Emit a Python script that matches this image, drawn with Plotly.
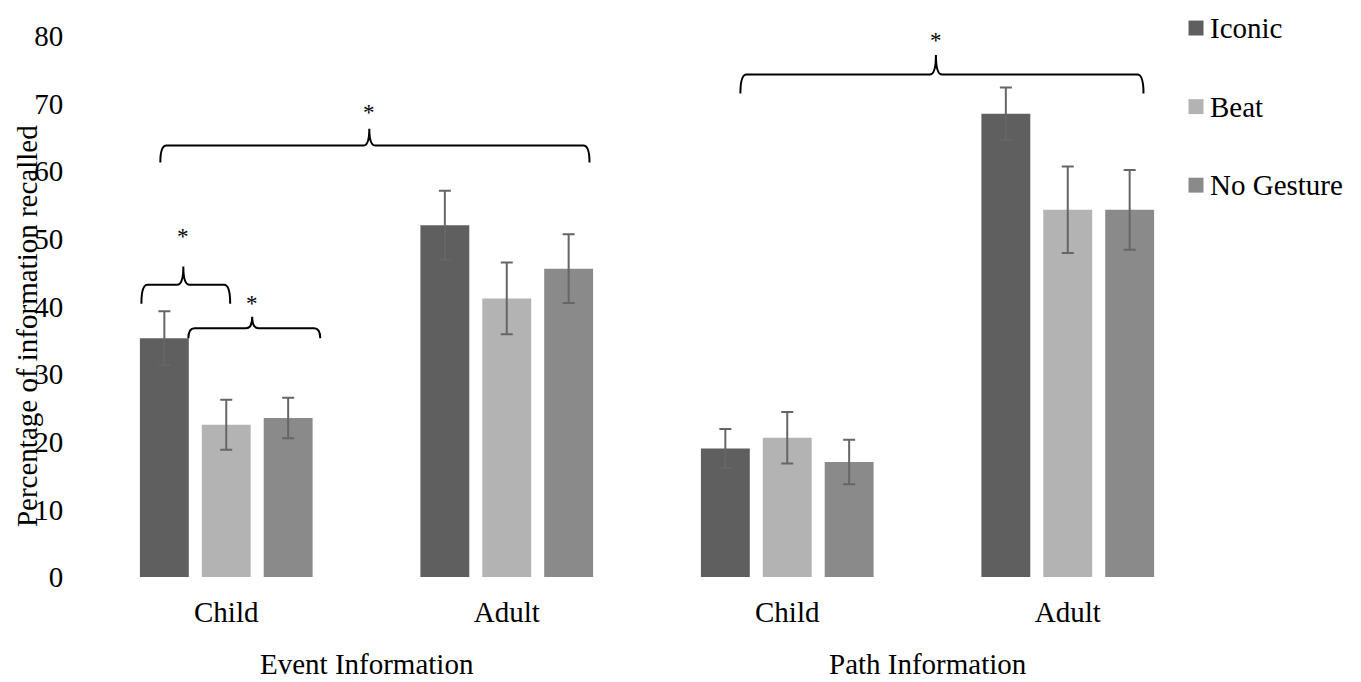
import plotly.graph_objects as go

groups = ["Event Information", "Path Information"]
categories = ["Child", "Adult", "Child", "Adult"]
series = ["Iconic", "Beat", "No Gesture"]
colors = ["#5f5f5f", "#b3b3b3", "#8a8a8a"]

iconic = [35.3, 52.0, 19.0, 68.5]
beat = [22.5, 41.2, 20.6, 54.3]
no_gesture = [23.5, 45.6, 17.0, 54.3]

iconic_err = [4.0, 5.1, 2.9, 3.9]
beat_err = [3.7, 5.3, 3.8, 6.4]
no_gesture_err = [3.0, 5.1, 3.3, 5.9]

values = [iconic, beat, no_gesture]
errors = [iconic_err, beat_err, no_gesture_err]

# significance braces: (x0, x1, tip x, y_end, y_flat, y_tip, y_star) in axis units
braces = [
    (-0.235, 1.295, 0.51, 61.3, 63.8, 66.3, 68.7),
    (-0.3025, 0.014, -0.153, 40.4, 43.2, 45.9, 50.3),
    (-0.135, 0.335, 0.0925, 35.3, 36.8, 38.5, 40.4),
    (1.833, 3.27, 2.53, 71.5, 74.3, 77.2, 79.4),
]

FONT = "Liberation Serif, Times New Roman, serif"
FS = 29
W, H = 1361, 682
ML, MR, MT, MB = 77.5, 160.5, 25, 113
PW, PH = W - ML - MR, H - MT - MB
xpos = list(range(len(categories)))

def px_to_paper_x(fx):
    return (fx - ML) / PW

def px_to_paper_y(fy):
    return (H - MB - fy) / PH

fig = go.Figure()
for name, vals, errs, col in zip(series, values, errors, colors):
    fig.add_trace(go.Bar(
        x=xpos, y=vals, name=name, marker=dict(color=col, line=dict(width=0)),
        error_y=dict(type="data", array=errs, visible=True, color="#666666",
                     thickness=2, width=6),
        showlegend=False,
    ))

def brace_path(x0, x1, xm, ye, yf, yt):
    dx = 0.022
    return (f"M {x0},{ye} Q {x0},{yf} {x0+dx},{yf} "
            f"L {xm-dx},{yf} Q {xm},{yf} {xm},{yt} "
            f"Q {xm},{yf} {xm+dx},{yf} "
            f"L {x1-dx},{yf} Q {x1},{yf} {x1},{ye}")

shapes = []
annotations = []
for x0, x1, xm, ye, yf, yt, ys in braces:
    shapes.append(dict(type="path", xref="x", yref="y",
                       path=brace_path(x0, x1, xm, ye, yf, yt),
                       line=dict(color="black", width=2)))
    annotations.append(dict(x=xm, y=ys, xref="x", yref="y", text="*",
                            showarrow=False, font=dict(family=FONT, size=23, color="black")))

# group labels
for i, g in enumerate(groups):
    annotations.append(dict(x=2 * i + 0.5, y=-0.16, xref="x", yref="paper", text=g,
                            showarrow=False, yanchor="middle", xanchor="center",
                            font=dict(family=FONT, size=FS, color="black")))

# y axis title (overlapping the tick labels, as in the original)
annotations.append(dict(x=px_to_paper_x(18), y=0.463, xref="paper", yref="paper",
                        xanchor="center", yanchor="middle",
                        text="Percentage of information recalled", textangle=-90,
                        showarrow=False, font=dict(family=FONT, size=FS, color="black")))

# legend (drawn manually to keep the plot area fixed)
leg_x0, leg_size, leg_y0, leg_step = 1181, 15, 17, 79
for i, (name, col) in enumerate(zip(series, colors)):
    cy = leg_y0 + i * leg_step
    shapes.append(dict(type="rect", xref="paper", yref="paper",
                       x0=px_to_paper_x(leg_x0), x1=px_to_paper_x(leg_x0 + leg_size),
                       y0=px_to_paper_y(cy - leg_size / 2), y1=px_to_paper_y(cy + leg_size / 2),
                       fillcolor=col, line=dict(width=0)))
    annotations.append(dict(x=px_to_paper_x(leg_x0 + leg_size + 5), y=px_to_paper_y(cy),
                            xref="paper", yref="paper", xanchor="left", yanchor="middle",
                            text=name, showarrow=False,
                            font=dict(family=FONT, size=FS, color="black")))

fig.update_layout(
    width=W, height=H,
    margin=dict(l=ML, r=MR, t=MT, b=MB),
    paper_bgcolor="white", plot_bgcolor="white",
    barmode="group", bargap=0.338, bargroupgap=0.21,
    font=dict(family=FONT, size=FS, color="black"),
    shapes=shapes, annotations=annotations,
    showlegend=False,
)
fig.update_xaxes(range=[-0.5, 3.5], tickmode="array", tickvals=xpos, ticktext=categories,
                 showgrid=False, zeroline=False, showline=False,
                 ticks="outside", ticklen=9, tickcolor="rgba(0,0,0,0)")
fig.update_yaxes(range=[0, 80], tickmode="array", tickvals=list(range(0, 81, 10)),
                 showgrid=False, zeroline=False, showline=False,
                 ticks="outside", ticklen=16, tickcolor="rgba(0,0,0,0)")

fig.write_html("out.html")
